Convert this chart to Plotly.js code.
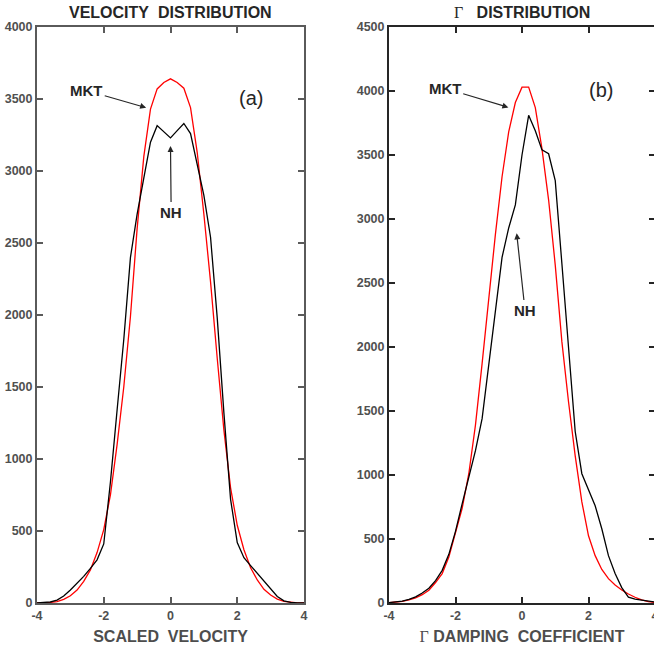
<!DOCTYPE html>
<html>
<head>
<meta charset="utf-8">
<script src="https://cdn.plot.ly/plotly-3.0.1.min.js"></script>
<style>
html,body{margin:0;padding:0;overflow:hidden;background:#fff;}
#chart{width:660px;height:647px;}
</style>
</head>
<body>
<div id="chart"></div>
<script>
// shared x grid
const xGrid = [-4.0,-3.8,-3.6,-3.4,-3.2,-3.0,-2.8,-2.6,-2.4,-2.2,-2.0,-1.8,-1.6,-1.4,-1.2,-1.0,-0.8,-0.6,-0.4,-0.2,
  0.0,0.2,0.4,0.6,0.8,1.0,1.2,1.4,1.6,1.8,2.0,2.2,2.4,2.6,2.8,3.0,3.2,3.4,3.6,3.8,4.0];

// Panel (a): velocity distribution
const velMKT = [0,1,4,10,25,50,90,150,230,350,510,750,1100,1500,1990,2600,3100,3430,3570,3615,
  3640,3615,3575,3440,3130,2700,2230,1700,1200,800,540,370,245,160,95,55,27,11,4,1,0];
const velNH = [0,2,7,20,48,90,135,185,240,300,410,840,1340,1830,2400,2700,2950,3200,3315,3275,
  3230,3280,3330,3260,3050,2830,2540,1980,1320,720,420,315,260,205,155,95,45,15,5,1,0];

// Panel (b): Gamma distribution
const gamMKT = [2,6,12,24,40,65,100,160,230,360,540,740,1010,1390,1870,2400,2880,3330,3680,3910,
  4030,4030,3870,3550,3150,2640,2040,1570,1150,790,525,370,262,190,140,102,70,45,24,10,4];
const gamNH = [3,7,14,28,48,78,115,175,255,380,560,775,975,1190,1440,1850,2290,2700,2930,3110,
  3500,3810,3690,3540,3510,3300,2650,1990,1340,1010,890,760,580,370,230,120,45,30,22,14,8];

const xTicks = [-4,-2,0,2,4];
const xTickText = ['-4','-2','0','2','4'];

const W = 660, H = 647;
const SANS = '"Liberation Sans", Arial, Helvetica, sans-serif';
const SERIF = "'Liberation Serif', 'Times New Roman', serif";
const NB = '\u00a0';
const GAMMA = '<span style="font-family:' + SERIF + ';font-weight:normal">\u0393</span>';

const traces = [
  {x:xGrid, y:velMKT, xaxis:'x', yaxis:'y', mode:'lines', line:{color:'#ff0000', width:1.3}},
  {x:xGrid, y:velNH, xaxis:'x', yaxis:'y', mode:'lines', line:{color:'#000000', width:1.3}},
  {x:xGrid, y:gamMKT, xaxis:'x2', yaxis:'y2', mode:'lines', line:{color:'#ff0000', width:1.3}},
  {x:xGrid, y:gamNH, xaxis:'x2', yaxis:'y2', mode:'lines', line:{color:'#000000', width:1.3}}
];

function xax(domain, color, anchor, titleText){
  return {
    domain: domain, anchor: anchor, range:[-4,4], tickvals:xTicks, ticktext:xTickText,
    ticks:'inside', ticklen:6, tickwidth:2, tickcolor:color,
    showline:true, linecolor:color, linewidth:2, mirror:'ticks',
    showgrid:false, zeroline:false, fixedrange:true,
    tickfont:{family:SANS, size:12.5, color:'#505050', weight:'bold'},
    title:{text:titleText, font:{family:SANS, size:16, color:'#4d4d4d', weight:'bold'}, standoff:9}
  };
}
function yax(range, color, anchor){
  return {
    domain:[0,1], anchor:anchor, range:range, dtick:500, tick0:0,
    ticks:'inside', ticklen:6, tickwidth:2, tickcolor:color,
    showline:true, linecolor:color, linewidth:2, mirror:'ticks',
    showgrid:false, zeroline:false, fixedrange:true,
    tickfont:{family:SANS, size:12.5, color:'#505050', weight:'bold'}
  };
}

const annFont = {family:SANS, size:15, color:'#262626', weight:'bold'};
const arrowCommon = {showarrow:true, arrowhead:2, arrowsize:1, arrowwidth:1.2, arrowcolor:'#262626'};

const layout = {
  width:W, height:H,
  margin:{l:0, r:0, t:27, b:44},
  paper_bgcolor:'#ffffff', plot_bgcolor:'#ffffff',
  showlegend:false,
  font:{family:SANS},
  xaxis: xax([37/W, 304/W], '#5a5a5a', 'y', 'SCALED' + NB + NB + 'VELOCITY'),
  yaxis: yax([0,4000], '#5a5a5a', 'x'),
  xaxis2: xax([389/W, 655/W], '#262626', 'y2', GAMMA + NB + 'DAMPING' + NB + NB + 'COEFFICIENT'),
  yaxis2: yax([0,4500], '#262626', 'x2'),
  annotations:[
    {xref:'x', yref:'paper', x:0, y:1, yanchor:'middle', yshift:15, showarrow:false,
     text:'VELOCITY' + NB + NB + 'DISTRIBUTION', font:{family:SANS, size:16, color:'#262626', weight:'bold'}},
    {xref:'x2', yref:'paper', x:0, y:1, yanchor:'middle', yshift:15, showarrow:false,
     text: GAMMA + NB + NB + NB + 'DISTRIBUTION',
     font:{family:SANS, size:16, color:'#262626', weight:'bold'}},
    Object.assign({xref:'x', yref:'y', axref:'x', ayref:'y', x:-0.73, y:3440, ax:-2.51, ay:3558, text:'MKT', font:annFont}, arrowCommon),
    Object.assign({xref:'x', yref:'y', axref:'x', ayref:'y', x:0, y:3174, ax:0.02, ay:2715, text:'NH', font:annFont}, arrowCommon),
    {xref:'x', yref:'y', x:2.4, y:3507, showarrow:false, text:'(a)', font:{family:SANS, size:20, color:'#262626'}},
    Object.assign({xref:'x2', yref:'y2', axref:'x2', ayref:'y2', x:-0.41, y:3872, ax:-2.31, ay:4021, text:'MKT', font:annFont}, arrowCommon),
    Object.assign({xref:'x2', yref:'y2', axref:'x2', ayref:'y2', x:-0.16, y:2888, ax:0.09, ay:2289, text:'NH', font:annFont}, arrowCommon),
    {xref:'x2', yref:'y2', x:2.39, y:4008, showarrow:false, text:'(b)', font:{family:SANS, size:20, color:'#262626'}}
  ]
};

Plotly.newPlot('chart', traces, layout, {staticPlot:true, displayModeBar:false});
</script>
</body>
</html>
